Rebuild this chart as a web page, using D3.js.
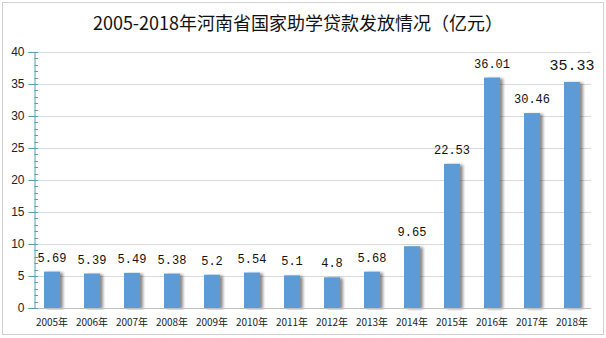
<!DOCTYPE html>
<html><head><meta charset="utf-8">
<script src="https://cdn.jsdelivr.net/npm/d3@7"></script>
<style>html,body{margin:0;padding:0;background:#fff;}</style>
</head><body>
<svg id="c" width="606" height="338"></svg>
<script>
const title = "2005-2018年河南省国家助学贷款发放情况（亿元）";
const categories = ["2005年","2006年","2007年","2008年","2009年","2010年","2011年","2012年","2013年","2014年","2015年","2016年","2017年","2018年"];
const values = [5.69,5.39,5.49,5.38,5.2,5.54,5.1,4.8,5.68,9.65,22.53,36.01,30.46,35.33];
const valueLabels = ["5.69","5.39","5.49","5.38","5.2","5.54","5.1","4.8","5.68","9.65","22.53","36.01","30.46","35.33"];
const yTicks = [0,5,10,15,20,25,30,35,40];

const svg = d3.select("#c");
const defs = svg.append("defs");
const f = defs.append("filter").attr("id","sh").attr("x","-20%").attr("y","-5%").attr("width","160%").attr("height","110%");
f.append("feGaussianBlur").attr("in","SourceAlpha").attr("stdDeviation",1.6).attr("result","b");
f.append("feOffset").attr("in","b").attr("dx",3).attr("dy",1).attr("result","o");
f.append("feComponentTransfer").attr("in","o").attr("result","o2").append("feFuncA").attr("type","linear").attr("slope",0.45);
const m = f.append("feMerge"); m.append("feMergeNode").attr("in","o2"); m.append("feMergeNode").attr("in","SourceGraphic");

svg.append("rect").attr("x",2.5).attr("y",2.5).attr("width",601).attr("height",332)
  .attr("fill","#fff").attr("stroke","#d0d0d0").attr("stroke-width",1);

svg.append("text").attr("x",298).attr("y",30).attr("text-anchor","middle")
  .attr("font-family","'Noto Sans CJK SC', sans-serif").attr("font-size",18).attr("font-weight",400)
  .attr("fill","#111").text(title);

const x = d3.scaleBand().domain(categories).range([32,592]).paddingInner(0.6).paddingOuter(0.3);
const y = d3.scaleLinear().domain([0,40]).range([308,52]);

// gridlines
svg.append("g").selectAll("line").data(yTicks.filter(d=>d>0)).join("line")
  .attr("x1",34).attr("x2",591).attr("y1",d=>Math.round(y(d))+0.5).attr("y2",d=>Math.round(y(d))+0.5)
  .attr("stroke","#d9d9d9");

// bars
svg.append("g").selectAll("rect").data(values).join("rect")
  .attr("x",(d,i)=>x(categories[i])).attr("width",x.bandwidth())
  .attr("y",d=>y(d)).attr("height",d=>y(0)-y(d))
  .attr("fill","#5b9bd5").attr("filter","url(#sh)");

// x axis line
svg.append("line").attr("x1",34).attr("x2",591).attr("y1",308.5).attr("y2",308.5).attr("stroke","#bfbfbf");

// y axis
const axisColor = "#5a9bb0";
const yAxis = d3.axisLeft(y).tickValues(yTicks).tickSize(6).tickFormat(d3.format("d"));
const ga = svg.append("g").attr("transform","translate(34.5,0)").call(yAxis);
ga.select(".domain").attr("stroke",axisColor);
ga.selectAll(".tick line").attr("stroke",axisColor);
ga.selectAll(".tick text").attr("font-family","'Liberation Sans', Arial, sans-serif").attr("font-size",12).attr("fill","#222").attr("x",-10);
// minor ticks
const minor = d3.range(0,41).filter(d=>d%5!==0);
svg.append("g").selectAll("line").data(minor).join("line")
  .attr("x1",34.5).attr("x2",38).attr("y1",d=>Math.round(y(d))+0.5).attr("y2",d=>Math.round(y(d))+0.5)
  .attr("stroke",axisColor);
svg.append("g").selectAll("line").data(yTicks).join("line")
  .attr("x1",34.5).attr("x2",38).attr("y1",d=>Math.round(y(d))+0.5).attr("y2",d=>Math.round(y(d))+0.5)
  .attr("stroke",axisColor);

// x labels
svg.append("g").selectAll("text").data(categories).join("text")
  .attr("x",d=>x(d)+x.bandwidth()/2).attr("y",326).attr("text-anchor","middle")
  .attr("font-family","'Noto Sans CJK SC', sans-serif").attr("font-size",10).attr("fill","#222").text(d=>d);

// value labels
svg.append("g").selectAll("text").data(valueLabels).join("text")
  .attr("x",(d,i)=>x(categories[i])+x.bandwidth()/2)
  .attr("y",(d,i)=>y(values[i]) - (i===13?12:10))
  .attr("text-anchor","middle")
  .attr("font-family","'Liberation Mono', monospace")
  .attr("font-size",(d,i)=>i===13?15:12).attr("fill","#111").text(d=>d);
</script>
</body></html>
